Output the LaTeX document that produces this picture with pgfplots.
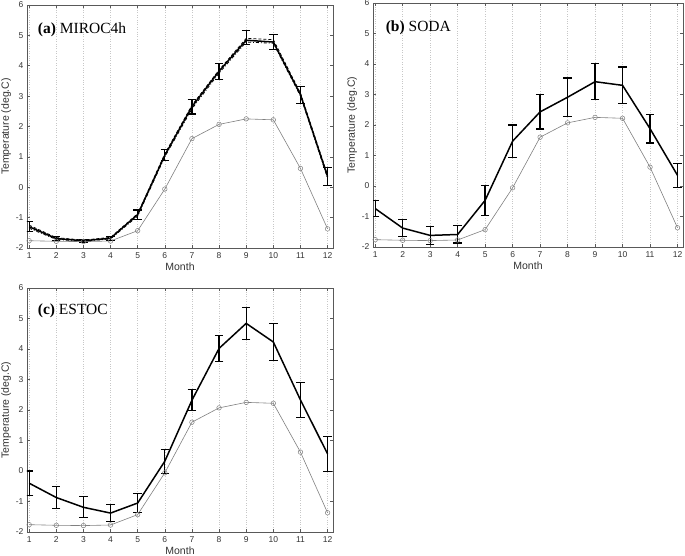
\documentclass[border=0pt]{standalone}
\usepackage{fontspec}
\setmainfont{Liberation Serif}
\setsansfont{Liberation Sans}
\usepackage{pgfplots}
\pgfplotsset{compat=1.18}

\pgfplotsset{
  panel/.style={
    scale only axis, width=306pt, height=243pt,
    xmin=0.92, xmax=12.2, ymin=-2, ymax=6,
    xtick={1,...,12}, ytick={-2,...,6},
    tick align=inside, major tick length=3pt,
    axis line style={black!65, line width=0.5pt},
    every tick/.style={black!65, line width=0.5pt},
    xmajorgrids, major grid style={dotted, black!22, line width=0.4pt},
    tick label style={font=\sffamily\fontsize{8.5}{9}\selectfont, black!80},
    xticklabel style={yshift=-1pt},
    /pgf/number format/assume math mode=true,
    label style={font=\sffamily\fontsize{10.5}{11}\selectfont, black!80},
    xlabel={Month}, ylabel={Temperature (deg.C)},
    xlabel style={yshift=2.5pt}, ylabel style={yshift=-2pt},
  },
  obs/.style={black!50, line width=0.6pt, mark=o,
    mark options={solid, mark size=2.3pt, line width=0.5pt}},
  model/.style={black, line width=1.5pt, mark=none,
    error bars/.cd, y dir=both, y explicit,
    error bar style={line width=1.3pt},
    error mark options={rotate=90, mark size=4.2pt, line width=1.1pt}},
}
\tikzset{ttl/.style={font=\fontsize{15.5}{17}\selectfont, anchor=west}}

% observed climatology (same in all panels)
\newcommand{\obsdata}{
  (1,-1.76) (2,-1.78) (3,-1.79) (4,-1.77) (5,-1.43) (6,-0.06)
  (7,1.60) (8,2.07) (9,2.25) (10,2.22) (11,0.62) (12,-1.37)}

\begin{document}
\begin{tikzpicture}

% (a) MIROC4h
\begin{axis}[panel, at={(27pt,308pt)}, anchor=south west]
\addplot [obs] coordinates {\obsdata};
\addplot [black, line width=0.8pt, densely dashed] coordinates {
  (1,-1.25) (2,-1.66) (3,-1.74) (4,-1.65) (5,-0.87) (6,1.10)
  (7,2.70) (8,3.86) (9,4.90) (10,4.86) (11,3.10) (12,0.40)};
\addplot [black, line width=0.8pt, dash dot] coordinates {
  (1,-1.35) (2,-1.72) (3,-1.78) (4,-1.70) (5,-0.95) (6,1.00)
  (7,2.58) (8,3.76) (9,4.78) (10,4.74) (11,3.00) (12,0.30)};
\addplot [model] coordinates {
  (1,-1.30) +- (0,0.16)
  (2,-1.69) +- (0,0.07)
  (3,-1.76) +- (0,0.05)
  (4,-1.68) +- (0,0.06)
  (5,-0.90) +- (0,0.15)
  (6,1.05) +- (0,0.18)
  (7,2.65) +- (0,0.24)
  (8,3.82) +- (0,0.26)
  (9,4.84) += (0,0.33) -= (0,0.13)
  (10,4.78) +- (0,0.24)
  (11,3.05) +- (0,0.28)
  (12,0.35) +- (0,0.30)};
\node [ttl] at (rel axis cs:0.024,0.9) {\textbf{(a)} MIROC4h};
\end{axis}

% (b) SODA
\begin{axis}[panel, width=310pt, height=244pt, at={(373pt,309pt)}, anchor=south west]
\addplot [obs] coordinates {\obsdata};
\addplot [model] coordinates {
  (1,-0.74) +- (0,0.25)
  (2,-1.38) +- (0,0.27)
  (3,-1.62) +- (0,0.30)
  (4,-1.59) +- (0,0.28)
  (5,-0.47) +- (0,0.50)
  (6,1.47) +- (0,0.53)
  (7,2.43) +- (0,0.56)
  (8,2.91) +- (0,0.63)
  (9,3.42) +- (0,0.59)
  (10,3.30) +- (0,0.60)
  (11,1.88) +- (0,0.47)
  (12,0.35) +- (0,0.39)};
\node [ttl] at (rel axis cs:0.03,0.9) {\textbf{(b)} SODA};
\end{axis}

% (c) ESTOC
\begin{axis}[panel, height=244pt, at={(27pt,24pt)}, anchor=south west]
\addplot [obs] coordinates {\obsdata};
\addplot [model] coordinates {
  (1,-0.40) +- (0,0.40)
  (2,-0.87) +- (0,0.37)
  (3,-1.19) +- (0,0.34)
  (4,-1.38) +- (0,0.27)
  (5,-1.05) +- (0,0.30)
  (6,0.32) +- (0,0.39)
  (7,2.32) +- (0,0.35)
  (8,4.02) +- (0,0.42)
  (9,4.84) +- (0,0.53)
  (10,4.23) +- (0,0.60)
  (11,2.33) +- (0,0.58)
  (12,0.56) +- (0,0.57)};
\node [ttl] at (rel axis cs:0.024,0.905) {\textbf{(c)} ESTOC};
\end{axis}

\pgfresetboundingbox
\path [use as bounding box] (0pt,0pt) rectangle (685pt,556pt);
\end{tikzpicture}
\end{document}
